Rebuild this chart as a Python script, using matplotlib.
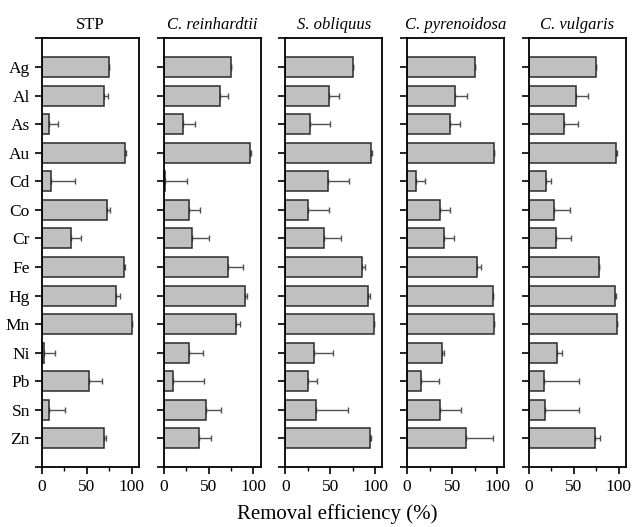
import numpy as np
import matplotlib.pyplot as plt
from matplotlib.ticker import MultipleLocator

plt.rcParams['font.family'] = ['Liberation Serif', 'DejaVu Serif']

metals = ['Ag', 'Al', 'As', 'Au', 'Cd', 'Co', 'Cr', 'Fe', 'Hg', 'Mn', 'Ni', 'Pb', 'Sn', 'Zn']
titles = ['STP', 'C. reinhardtii', 'S. obliquus', 'C. pyrenoidosa', 'C. vulgaris']
italic = [False, True, True, True, True]

# removal efficiency (%) and error per panel
stp = [75, 69, 8, 93, 10, 73, 32, 92, 83, 100, 2, 53, 8.5, 69]
stp_err = [0, 5, 10, 1, 27, 3, 12, 1, 4.5, 0, 13, 13.5, 17, 3]
rein = [75, 63, 22, 96, 2, 28, 31.5, 72, 90.5, 81, 28.5, 10.5, 47, 39]
rein_err = [0, 9, 13.5, 1, 24, 12.5, 19, 16, 2, 4.5, 15.5, 34, 17, 13.5]
obl = [75, 49, 27, 95.5, 47, 25, 43.5, 85, 92, 99, 31.5, 25.5, 34, 94]
obl_err = [0, 11, 23, 1, 24, 23, 18, 3.5, 2, 0, 21, 10, 36, 1.5]
pyr = [75, 53, 47.5, 96.5, 10, 36.5, 41.5, 78, 95, 96.5, 39, 15, 36, 65]
pyr_err = [0, 14, 11, 0.5, 10, 11, 10.5, 4, 1, 0.5, 2.5, 20, 23.5, 31]
vul = [75, 52, 39, 97, 19, 27.5, 30, 78, 96, 97.5, 31, 17, 18, 74]
vul_err = [0, 14, 15, 0.5, 5, 18.5, 17, 0, 0.5, 0.5, 5.5, 39, 38, 5.5]

values = [stp, rein, obl, pyr, vul]
errors = [stp_err, rein_err, obl_err, pyr_err, vul_err]

fig, axes = plt.subplots(1, 5, figsize=(6.33, 5.27), dpi=100, sharey=True)
fig.subplots_adjust(left=0.066, right=0.989, top=0.927, bottom=0.114, wspace=0.255)

y = np.arange(1, len(metals) + 1)
for i, ax in enumerate(axes):
    err = np.array(errors[i])
    ax.barh(y, values[i], height=0.7, color='#c0c0c0', edgecolor='#2a2a2a', linewidth=1.1, zorder=2)
    ax.errorbar(values[i], y, xerr=[np.zeros_like(err), err], fmt='none',
                ecolor='#505050', elinewidth=1.0, capsize=2.5, capthick=1.0, zorder=1)
    ax.set_xlim(0, 108)
    ax.set_ylim(len(metals) + 1, 0)
    ax.set_yticks(np.arange(0, len(metals) + 2))
    ax.set_yticklabels([''] + metals + [''])
    ax.xaxis.set_major_locator(MultipleLocator(50))
    ax.xaxis.set_minor_locator(MultipleLocator(25))
    ax.tick_params(axis='both', which='major', direction='out', length=5, width=1.2, labelsize=12.5)
    ax.tick_params(axis='x', which='minor', direction='out', length=3, width=1.0)
    for s in ax.spines.values():
        s.set_linewidth(1.3)
    ax.set_title(titles[i], fontsize=12, style='italic' if italic[i] else 'normal', pad=7)
    if i > 0:
        ax.tick_params(axis='y', labelleft=False)

fig.text(0.532, 0.006, 'Removal efficiency (%)', ha='center', va='bottom', fontsize=15)

plt.savefig('out.png', dpi=100)
